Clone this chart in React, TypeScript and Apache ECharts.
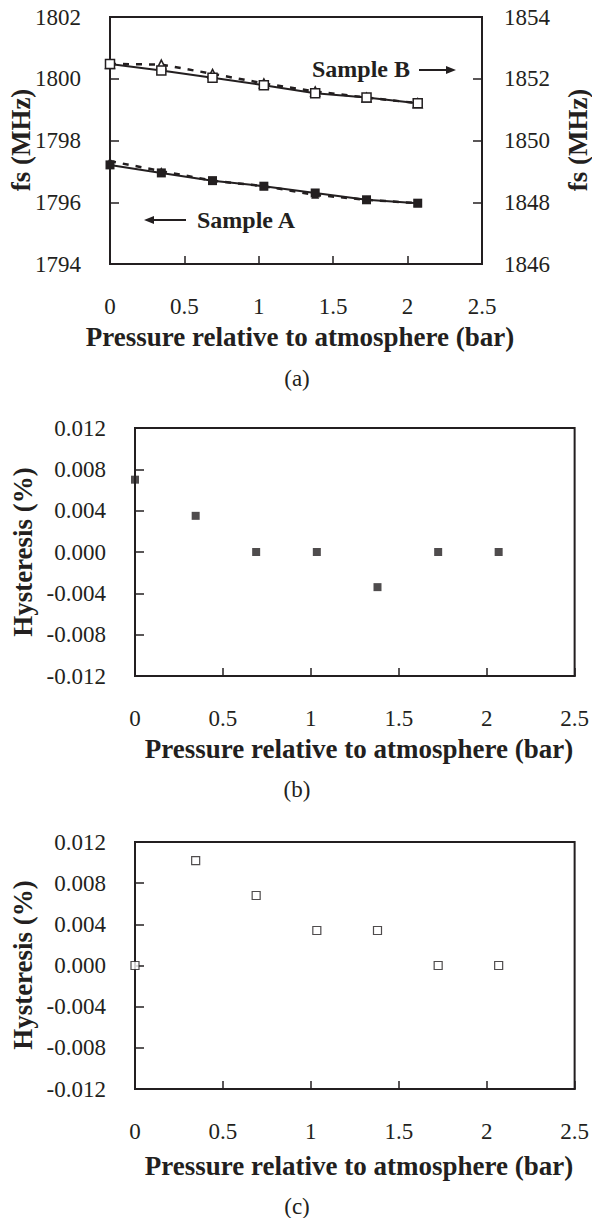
import React, { useEffect, useRef } from "react";
import * as echarts from "echarts";

// ---- data ----
const pressureBar = [0, 0.345, 0.689, 1.034, 1.379, 1.724, 2.068];
const xTickLabels = ["0", "0.5", "1", "1.5", "2", "2.5"];

// (a) Sample A (left axis, MHz)
const sampleAIncreasing = [1797.21, 1796.95, 1796.7, 1796.52, 1796.3, 1796.08, 1795.97];
const sampleADecreasing = [1797.33, 1797.01, 1796.7, 1796.52, 1796.24, 1796.08, 1795.97];
// (a) Sample B (right axis, MHz)
const sampleBIncreasing = [1852.48, 1852.27, 1852.03, 1851.79, 1851.53, 1851.39, 1851.21];
const sampleBDecreasing = [1852.48, 1852.46, 1852.16, 1851.85, 1851.59, 1851.39, 1851.21];

// (b) hysteresis Sample A (%)
const hysteresisA = [0.007, 0.0035, 0.0, 0.0, -0.0034, 0.0, 0.0];
// (c) hysteresis Sample B (%)
const hysteresisB = [0.0, 0.0102, 0.0068, 0.0034, 0.0034, 0.0, 0.0];

const INK = "#231f20";
const SERIF = "'Liberation Serif', 'Times New Roman', serif";
const TICK_SIZE = 23;
const TITLE_FONT = `bold 27px ${SERIF}`;

const pts = (ys: number[]) => pressureBar.map((p, i) => [p, ys[i]]);

function xAxisFor(gridIndex: number) {
  return {
    gridIndex,
    type: "value",
    min: 0,
    max: 2.5,
    interval: 0.5,
    axisLine: { show: true, onZero: false, lineStyle: { color: INK, width: 2 } },
    axisTick: { show: true, inside: true, length: 8, lineStyle: { color: INK, width: 1.5 } },
    axisLabel: {
      margin: 31,
      fontSize: TICK_SIZE,
      fontFamily: SERIF,
      color: INK,
      formatter: (v: number) => xTickLabels[Math.round(v / 0.5)] ?? String(v),
    },
    splitLine: { show: false },
  };
}

function yAxisFor(gridIndex: number, min: number, max: number, interval: number, position: string, margin: number, fmt: (v: number) => string) {
  return {
    gridIndex,
    type: "value",
    position,
    min,
    max,
    interval,
    axisLine: { show: true, onZero: false, lineStyle: { color: INK, width: 2 } },
    axisTick: { show: true, inside: true, length: 9, lineStyle: { color: INK, width: 1.5 } },
    axisLabel: { margin, fontSize: TICK_SIZE, fontFamily: SERIF, color: INK, formatter: fmt },
    splitLine: { show: false },
  };
}

const hystFmt = (v: number) => (Math.abs(v) < 1e-9 ? "0.000" : v.toFixed(3));
const intFmt = (v: number) => String(Math.round(v));

function vText(x: number, y: number, text: string) {
  return {
    type: "text",
    x,
    y,
    rotation: Math.PI / 2,
    style: { text, font: TITLE_FONT, fill: INK, textAlign: "center", textVerticalAlign: "middle" },
  };
}
function hText(x: number, y: number, text: string, font: string) {
  return {
    type: "text",
    x,
    y,
    style: { text, font, fill: INK, textAlign: "center", textVerticalAlign: "middle" },
  };
}

export default function App() {
  const ref = useRef<HTMLDivElement>(null);
  useEffect(() => {
    if (!ref.current) return;
    const chart = echarts.init(ref.current, undefined, { renderer: "svg" });
    const gridBase = { show: true, borderColor: INK, borderWidth: 2, backgroundColor: "transparent" };
    const option: any = {
      animation: false,
      grid: [
        { ...gridBase, left: 110, top: 17, width: 372, height: 247 },
        { ...gridBase, left: 135, top: 428, width: 441, height: 248 },
        { ...gridBase, left: 135, top: 842, width: 441, height: 247 },
      ],
      xAxis: [xAxisFor(0), xAxisFor(1), xAxisFor(2)],
      yAxis: [
        yAxisFor(0, 1794, 1802, 2, "left", 29, intFmt),
        yAxisFor(0, 1846, 1854, 2, "right", 22, intFmt),
        yAxisFor(1, -0.012, 0.012, 0.004, "left", 29, hystFmt),
        yAxisFor(2, -0.012, 0.012, 0.004, "left", 29, hystFmt),
      ],
      series: [
        {
          name: "Sample A (decreasing)",
          type: "line",
          xAxisIndex: 0,
          yAxisIndex: 0,
          data: pts(sampleADecreasing),
          symbol: "triangle",
          symbolSize: 8,
          lineStyle: { color: INK, width: 2.5, type: [6, 7] },
          itemStyle: { color: INK },
          z: 2,
        },
        {
          name: "Sample A (increasing)",
          type: "line",
          xAxisIndex: 0,
          yAxisIndex: 0,
          data: pts(sampleAIncreasing),
          symbol: "rect",
          symbolSize: 9,
          lineStyle: { color: INK, width: 2 },
          itemStyle: { color: INK },
          z: 3,
        },
        {
          name: "Sample B (decreasing)",
          type: "line",
          xAxisIndex: 0,
          yAxisIndex: 1,
          data: pts(sampleBDecreasing),
          symbol: "triangle",
          symbolSize: 9,
          showAllSymbol: true,
          lineStyle: { color: INK, width: 2.5, type: [6, 7] },
          itemStyle: { color: "#ffffff", borderColor: INK, borderWidth: 1.5 },
          z: 2,
        },
        {
          name: "Sample B (increasing)",
          type: "line",
          xAxisIndex: 0,
          yAxisIndex: 1,
          data: pts(sampleBIncreasing),
          symbol: "rect",
          symbolSize: 9,
          lineStyle: { color: INK, width: 2 },
          itemStyle: { color: "#ffffff", borderColor: INK, borderWidth: 1.5 },
          z: 3,
        },
        {
          name: "Hysteresis A",
          type: "scatter",
          xAxisIndex: 1,
          yAxisIndex: 2,
          data: pts(hysteresisA),
          symbol: "rect",
          symbolSize: 8,
          itemStyle: { color: INK },
        },
        {
          name: "Hysteresis B",
          type: "scatter",
          xAxisIndex: 2,
          yAxisIndex: 3,
          data: pts(hysteresisB),
          symbol: "rect",
          symbolSize: 8,
          itemStyle: { color: "#ffffff", borderColor: INK, borderWidth: 1.2 },
        },
      ],
      graphic: [
        // y-axis titles
        vText(21, 140, "fs (MHz)"),
        vText(578, 140, "fs (MHz)"),
        vText(23, 552, "Hysteresis (%)"),
        vText(23, 965, "Hysteresis (%)"),
        // x-axis titles
        hText(300, 337, "Pressure relative to atmosphere (bar)", TITLE_FONT),
        hText(359, 749, "Pressure relative to atmosphere (bar)", TITLE_FONT),
        hText(359, 1166, "Pressure relative to atmosphere (bar)", TITLE_FONT),
        // captions
        hText(297, 378, "(a)", `23px ${SERIF}`),
        hText(297, 789, "(b)", `23px ${SERIF}`),
        hText(297, 1206, "(c)", `23px ${SERIF}`),
        // sample annotations
        hText(361, 69, "Sample B", `bold 24px ${SERIF}`),
        { type: "line", shape: { x1: 419, y1: 70, x2: 448, y2: 70 }, style: { stroke: INK, lineWidth: 2 } },
        { type: "polygon", shape: { points: [[456, 70], [446, 66], [446, 74]] }, style: { fill: INK } },
        hText(246, 220, "Sample A", `bold 24px ${SERIF}`),
        { type: "line", shape: { x1: 152, y1: 220, x2: 186, y2: 220 }, style: { stroke: INK, lineWidth: 2 } },
        { type: "polygon", shape: { points: [[144, 220], [154, 216], [154, 224]] }, style: { fill: INK } },
      ],
    };
    chart.setOption(option);
    return () => chart.dispose();
  }, []);
  return (
    <div
      ref={ref}
      style={{ position: "absolute", left: 0, top: 0, width: 592, height: 1218, background: "#ffffff" }}
    />
  );
}
